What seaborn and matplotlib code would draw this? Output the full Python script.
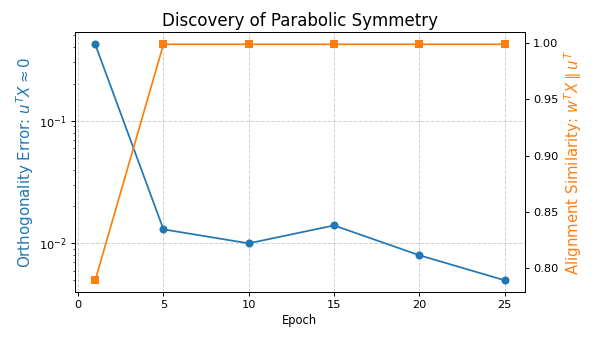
import numpy as np
import pandas as pd
import matplotlib
matplotlib.use("Agg")
import matplotlib.pyplot as plt
import seaborn as sns

# ─── Data ─────────────────────────────────────────────────────────────────────

epochs = [1, 5, 10, 15, 20, 25]
ortho_error = [0.42, 0.013, 0.010, 0.014, 0.008, 0.005]
align_sim = [0.789, 0.999, 0.999, 0.999, 0.999, 0.999]

df = pd.DataFrame({"Epoch": epochs, "Ortho": ortho_error, "Align": align_sim})

blue = "#1f77b4"
orange = "#ff7f0e"

# slightly scaled-down matplotlib defaults
plt.rcParams.update({
    "axes.linewidth": 0.7,
    "xtick.major.size": 2.9, "ytick.major.size": 2.9,
    "xtick.minor.size": 1.7, "ytick.minor.size": 1.7,
    "xtick.major.width": 0.7, "ytick.major.width": 0.7,
    "xtick.minor.width": 0.5, "ytick.minor.width": 0.5,
    "xtick.major.pad": 2.9, "ytick.major.pad": 2.9,
})

# ─── Plot ─────────────────────────────────────────────────────────────────────

fig, ax1 = plt.subplots(figsize=(5.98, 3.42), dpi=100)
fig.subplots_adjust(left=0.125, right=0.878, top=0.905, bottom=0.146)

sns.lineplot(data=df, x="Epoch", y="Ortho", marker="o", markersize=5.8,
             markeredgewidth=0, linewidth=1.25, color=blue, ax=ax1)
ax1.set_yscale("log")
ax1.set_xlabel("Epoch", fontsize=8.3, labelpad=3)
ax1.set_ylabel(r"Orthogonality Error: $u^T X \approx 0$", color=blue,
               fontsize=10.8, labelpad=2.5)
ax1.grid(True, linestyle="--", alpha=0.6, linewidth=0.7)
ax1.tick_params(labelsize=8.2)

ax2 = ax1.twinx()
sns.lineplot(data=df, x="Epoch", y="Align", marker="s", markersize=5.8,
             markeredgewidth=0, linewidth=1.25, color=orange, ax=ax2)
ax2.set_ylabel(r"Alignment Similarity: $w^T X \parallel u^T$", color=orange,
               fontsize=10.8, labelpad=2.5)
ax2.tick_params(labelsize=8.2)

ax1.set_title("Discovery of Parabolic Symmetry", fontsize=12, pad=5)

plt.savefig("out.png", dpi=100)
plt.close()
